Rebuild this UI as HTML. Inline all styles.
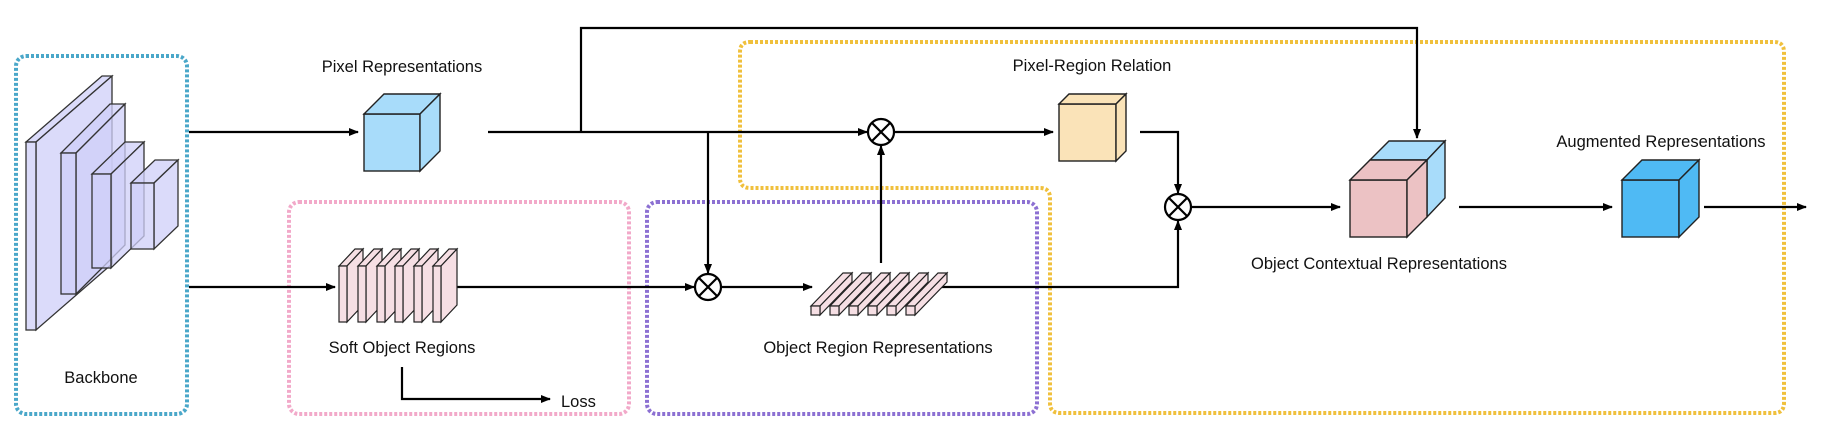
<!DOCTYPE html>
<html><head><meta charset="utf-8"><style>
html,body{margin:0;padding:0;background:#fff;}
svg{display:block;}
text{font-family:"Liberation Sans",sans-serif;font-size:16.5px;fill:#111;}
</style></head><body>
<svg width="1826" height="444" viewBox="0 0 1826 444" xmlns="http://www.w3.org/2000/svg">
<defs>
<marker id="a" markerWidth="10" markerHeight="8" refX="9" refY="4" orient="auto" markerUnits="userSpaceOnUse">
<path d="M0,0 L10,4 L0,8 Z" fill="#000"/></marker>
</defs>
<!-- dotted groups -->
<rect x="16" y="56" width="171" height="358" rx="10" fill="none" stroke="#4aa7c9" stroke-width="4" stroke-dasharray="3,2"/>
<rect x="289" y="202" width="340" height="212" rx="10" fill="none" stroke="#f2a9c9" stroke-width="4" stroke-dasharray="3,2"/>
<rect x="647" y="202" width="390" height="212" rx="10" fill="none" stroke="#8c70d2" stroke-width="4" stroke-dasharray="3,2"/>
<path d="M750,42 H1774 Q1784,42 1784,52 V403 Q1784,413 1774,413 H1060 Q1050,413 1050,403 V198 Q1050,188 1040,188 H750 Q740,188 740,178 V52 Q740,42 750,42 Z" fill="none" stroke="#f0c03c" stroke-width="4" stroke-dasharray="3,2"/>

<!-- backbone layers -->
<g stroke="#333" stroke-width="1.3" fill="#cfcff8" fill-opacity="0.75">
<polygon points="26,142 102,76 112,76 36,142"/><polygon points="36,142 112,76 112,264 36,330"/><rect x="26" y="142" width="10" height="188"/>
<polygon points="61,153 110,104 125,104 76,153"/><polygon points="76,153 125,104 125,245 76,294"/><rect x="61" y="153" width="15" height="141"/>
<polygon points="92,174 125,142 144,142 111,174"/><polygon points="111,174 144,142 144,236 111,268"/><rect x="92" y="174" width="19" height="94"/>
<polygon points="131,183 155,160 178,160 154,183"/><polygon points="154,183 178,160 178,226 154,249"/><rect x="131" y="183" width="23" height="66"/>
</g>

<!-- lines -->
<g stroke="#000" stroke-width="2.2" fill="none">
<line x1="189" y1="132" x2="358" y2="132" marker-end="url(#a)"/>
<line x1="488" y1="132" x2="867" y2="132" marker-end="url(#a)"/>
<polyline points="581,132 581,28 1417,28 1417,138" marker-end="url(#a)"/>
<line x1="708" y1="132" x2="708" y2="273" marker-end="url(#a)"/>
<line x1="895" y1="132" x2="1053" y2="132" marker-end="url(#a)"/>
<polyline points="1140,132 1178,132 1178,193" marker-end="url(#a)"/>
<line x1="1192" y1="207" x2="1340" y2="207" marker-end="url(#a)"/>
<line x1="1459" y1="207" x2="1612" y2="207" marker-end="url(#a)"/>
<line x1="1704" y1="207" x2="1806" y2="207" marker-end="url(#a)"/>
<line x1="189" y1="287" x2="335" y2="287" marker-end="url(#a)"/>
<line x1="457" y1="287" x2="694" y2="287" marker-end="url(#a)"/>
<line x1="722" y1="287" x2="812" y2="287" marker-end="url(#a)"/>
<polyline points="940,287 1178,287 1178,221" marker-end="url(#a)"/>
<line x1="881" y1="263" x2="881" y2="146" marker-end="url(#a)"/>
<polyline points="402,367 402,399 550,399" marker-end="url(#a)"/>
</g>

<!-- otimes -->
<g stroke="#000" stroke-width="2.2" fill="#fff">
<circle cx="881" cy="132" r="13"/><path d="M872,123 L890,141 M890,123 L872,141"/>
<circle cx="708" cy="287" r="13"/><path d="M699,278 L717,296 M717,278 L699,296"/>
<circle cx="1178" cy="207" r="13"/><path d="M1169,198 L1187,216 M1187,198 L1169,216"/>
</g>

<!-- cubes -->
<g stroke="#222" stroke-width="1.4">
<g fill="#a8dcfa"><rect x="364" y="114" width="56" height="57"/><polygon points="364,114 384,94 440,94 420,114"/><polygon points="420,114 440,94 440,151 420,171"/></g>
<g fill="#fae3b8"><rect x="1059" y="104" width="57" height="57"/><polygon points="1059,104 1069,94 1126,94 1116,104"/><polygon points="1116,104 1126,94 1126,151 1116,161"/></g>
<g fill="#a8dcfa"><polygon points="1370,160 1389,141 1445,141 1427,160"/><polygon points="1427,160 1445,141 1445,198 1427,217"/></g>
<g fill="#ecc2c4"><rect x="1350" y="180" width="57" height="57"/><polygon points="1350,180 1370,160 1427,160 1407,180"/><polygon points="1407,180 1427,160 1427,217 1407,237"/></g>
<g fill="#4fbaf4"><rect x="1622" y="180" width="57" height="57"/><polygon points="1622,180 1642,160 1699,160 1679,180"/><polygon points="1679,180 1699,160 1699,217 1679,237"/></g>
</g>

<!-- soft object slabs -->
<g stroke="#222" stroke-width="1.2" fill="#f6dfe4">
<g id="s"><polygon points="339,266 355,249 363,249 347,266"/><polygon points="347,266 363,249 363,305 347,322"/><rect x="339" y="266" width="8" height="56"/></g>
<use href="#s" x="19"/><use href="#s" x="38"/><use href="#s" x="56"/><use href="#s" x="75"/><use href="#s" x="94"/>
</g>
<!-- object region bars -->
<g stroke="#222" stroke-width="1.2" fill="#f6dfe4">
<g id="b"><polygon points="811,306 843,273 852,273 820,306"/><polygon points="820,306 852,273 852,282 820,315"/><rect x="811" y="306" width="9" height="9"/></g>
<use href="#b" x="19"/><use href="#b" x="38"/><use href="#b" x="57"/><use href="#b" x="76"/><use href="#b" x="95"/>
</g>

<!-- labels -->
<g text-anchor="middle">
<text x="402" y="72">Pixel Representations</text>
<text x="101" y="383">Backbone</text>
<text x="402" y="353">Soft Object Regions</text>
<text x="878" y="353">Object Region Representations</text>
<text x="1092" y="71">Pixel-Region Relation</text>
<text x="1379" y="269">Object Contextual Representations</text>
<text x="1661" y="147">Augmented Representations</text>
</g>
<text x="561" y="407">Loss</text>
</svg>
</body></html>
